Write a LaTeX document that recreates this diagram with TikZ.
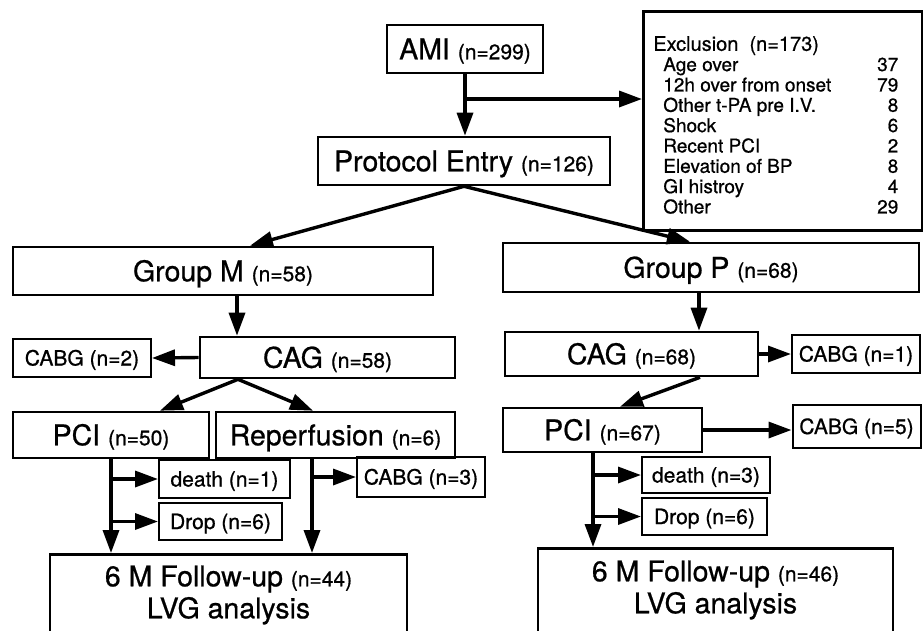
\documentclass[tikz,border=0pt]{standalone}
\usepackage{fontspec}
\setmainfont{TeX Gyre Heros}[FakeBold=0.7]
\usetikzlibrary{arrows.meta,calc}
\newcommand{\smtxt}[1]{{\fontsize{21}{24}\selectfont #1}}
\begin{document}
\begin{tikzpicture}[x=1pt,y=-1pt,
  mainbox/.style={draw, line width=2.6pt, inner sep=0pt, font=\fontsize{28.5}{32}\selectfont, text height=20.5pt, text depth=0pt},
  smallbox/.style={draw, line width=2pt, inner sep=0pt, font=\fontsize{21}{24}\selectfont, text height=15pt, text depth=0pt},
  arr/.style={line width=3.4pt, -{Triangle[length=23pt,width=16pt]}}]
\useasboundingbox (0,0) rectangle (923,630);
\clip (0,0) rectangle (923,630);

% top
\node[mainbox, minimum width=156pt, minimum height=48pt] (ami) at (465,49) {AMI \smtxt{(n=299)}};
\node[mainbox, minimum width=292pt, minimum height=48pt] (pe) at (464,161) {Protocol Entry \smtxt{(n=126)}};
\node[draw, line width=2.6pt, inner sep=0pt, anchor=north west, font=\fontsize{19}{20.33}\selectfont] (excl) at (642,10) {%
\begin{tabular*}{279pt}{@{\hspace{20pt}}l@{\extracolsep{\fill}}r@{\hspace{24pt}}}
\rule{0pt}{39.5pt}\hspace{-10pt}{\fontsize{20}{20.33}\selectfont Exclusion\ \ (n=173)} & \\
Age over & 37\\
12h over from onset & 79\\
Other t-PA pre I.V. & 8\\
Shock & 6\\
Recent PCI & 2\\
Elevation of BP & 8\\
GI histroy & 4\\
Other & 29\rule[-17pt]{0pt}{17pt}
\end{tabular*}};

% group M side
\node[mainbox, minimum width=420pt, minimum height=48pt] (gm) at (223,271) {Group M \smtxt{(n=58)}};
\node[mainbox, minimum width=255pt, minimum height=41pt] (cagm) at (327.5,357.5) {CAG \smtxt{(n=58)}};
\node[smallbox, minimum width=138pt, minimum height=38pt] (cabg2) at (82,358) {CABG (n=2)};
\node[mainbox, minimum width=196pt, minimum height=46pt] (pci50) at (111,435) {PCI \smtxt{(n=50)}};
\node[mainbox, minimum width=239pt, minimum height=46pt] (rep) at (335.5,435) {Reperfusion \smtxt{(n=6)}};
\node[smallbox, minimum width=131pt, minimum height=38pt] (death1) at (224.5,479) {death (n=1)};
\node[smallbox, minimum width=123pt, minimum height=37pt] (drop1) at (220.5,521.5) {Drop (n=6)};
\node[smallbox, minimum width=128pt, minimum height=40pt] (cabg3) at (421,477) {CABG (n=3)};
\node[mainbox, text height=64pt, text depth=43pt, align=center, minimum width=357pt, anchor=north] (ful) at (228.5,553) {6 M Follow-up \smtxt{(n=44)}\\LVG analysis};

% group P side
\node[mainbox, minimum width=416pt, minimum height=49pt] (gp) at (711,267.5) {Group P \smtxt{(n=68)}};
\node[mainbox, minimum width=253pt, minimum height=44pt] (cagp) at (631.5,354) {CAG \smtxt{(n=68)}};
\node[smallbox, minimum width=128pt, minimum height=38pt] (cabg1) at (856,354) {CABG (n=1)};
\node[mainbox, minimum width=199pt, minimum height=44pt] (pci67) at (602.5,430) {PCI \smtxt{(n=67)}};
\node[smallbox, minimum width=128pt, minimum height=43pt] (cabg5) at (856.5,426.5) {CABG (n=5)};
\node[smallbox, minimum width=128pt, minimum height=36pt] (death3) at (706,475) {death (n=3)};
\node[smallbox, minimum width=125pt, minimum height=37pt] (drop3) at (704.5,516.5) {Drop (n=6)};
\node[mainbox, text height=65pt, text depth=48pt, align=center, minimum width=355pt, anchor=north] (fur) at (715.5,547) {6 M Follow-up \smtxt{(n=46)}\\LVG analysis};

% connectors top
\draw[arr] (ami.south) -- (ami.south |- pe.north);
\coordinate (b0) at (ami.south |- 0,99);
\draw[arr] (b0) -- (b0 -| excl.west);
\draw[arr] (pe.south) -- ([xshift=27pt]gm.north);
\draw[arr] (pe.south) -- ([xshift=-21pt]gp.north);

% connectors left
\coordinate (gmv) at ([xshift=14pt]gm.south);
\draw[arr] (gmv) -- (gmv |- cagm.north);
\draw[arr] (cagm.west) -- (cabg2.east);
\coordinate (cmb) at ([xshift=-89.5pt]cagm.south);
\draw[arr] (cmb) -- ([xshift=49pt]pci50.north);
\draw[arr] (cmb) -- ([xshift=-22.5pt]rep.north);
\coordinate (pv) at (pci50.south);
\draw[arr] (pv) -- (pv |- ful.north);
\draw[arr] (pv |- death1.west) -- (death1.west);
\draw[arr] (pv |- drop1.west) -- (drop1.west);
\coordinate (rv) at ([xshift=-23.5pt]rep.south);
\draw[arr] (rv) -- (rv |- ful.north);
\draw[arr] (rv |- cabg3.west) -- (cabg3.west);

% connectors right
\coordinate (gpv) at ([xshift=-12pt]gp.south);
\draw[arr] (gpv) -- (gpv |- cagp.north);
\draw[arr] (cagp.east) -- (cabg1.west);
\coordinate (cpb) at ([xshift=68.5pt]cagp.south);
\draw[arr] (cpb) -- ([xshift=17.5pt]pci67.north);
\draw[arr] (pci67.east) -- (pci67.east -| cabg5.west);
\coordinate (p7v) at ([xshift=-9.5pt]pci67.south);
\draw[arr] (p7v) -- (p7v |- fur.north);
\draw[arr] (p7v |- death3.west) -- (death3.west);
\draw[arr] (p7v |- drop3.west) -- (drop3.west);
\end{tikzpicture}
\end{document}
